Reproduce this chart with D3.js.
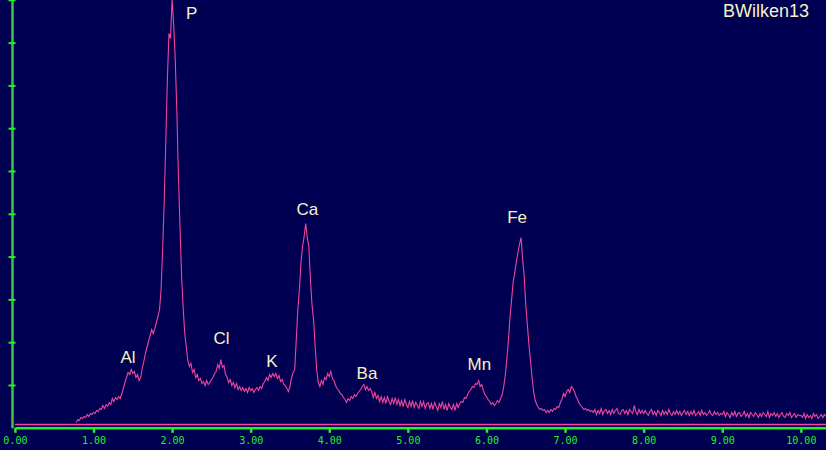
<!DOCTYPE html>
<html>
<head>
<meta charset="utf-8">
<script src="https://cdn.jsdelivr.net/npm/d3@7"></script>
<style>
  html, body { margin: 0; padding: 0; background: #000052; }
  svg { display: block; }
</style>
</head>
<body>
<svg width="826" height="450"></svg>
<script>
// EDS spectrum, one value per 0.02 keV channel starting at 0.78 keV
const startKeV = 0.78;
const channelKeV = 0.02;
const counts = [
  2,5,4,7,6,8,7,10,8,11, 10,12,11,14,13,16,15,19,16,20,
  18,22,20,26,23,27,25,28,26,31, 36,42,47,52,50,55,51,53,47,50,
  44,47,56,63,71,77,83,89,95,91, 96,102,108,115,135,176,224,283,345,391,
  386,426,400,365,315,250,200,150,118,92, 78,64,58,61,52,55,47,50,44,46,
  41,43,39,44,40,42,45,47,51,53, 60,56,65,57,59,50,47,42,45,39,
  42,37,41,35,38,34,37,33,36,32, 37,34,36,32,35,37,34,38,36,41,
  43,47,44,50,47,51,48,51,46,49, 43,45,40,39,36,33,38,47,52,55,
  85,115,135,162,178,188,201,187,178,145, 120,105,78,55,42,38,44,40,47,45,
  51,48,53,46,44,39,36,34,31,30, 27,25,22,26,24,28,26,30,28,31,
  33,35,38,40,35,38,34,36,
  33,27,32,26,29,23,28,22,27,21, 28,23,20,26,21,27,20,25,19,24,
  18,25,20,17,23,18,24,17,22,19, 16,23,18,23,16,21,22,16,21,15,
  22,18,14,21,17,23,15,20,14,21, 17,15,20,14,21,17,21,
  23,22,27,26,30, 33,35,38,37,41,40,44,38,40,34,
  30,28,25,23,20,22,19,21,24,22, 26,30,38,50,66,85,108,125,143,152,
  163,172,180,187,165,148,120,100,80,64, 47,33,24,20,17,15,16,14,15,12,
  14,12,15,13,16,15,18,17,22,25, 31,28,33,35,32,38,36,33,28,25,
  21,19,17,15,16,14,15,13,14,
  12,15,10,14,11,16,10,14,15,11, 14,10,15,11,14,16,11,10,14,15,
  11,14,10,15,13,11,19,13,10,15, 11,14,
  11,14,11,9,13,15,10,13,9,14, 12,9,14,10,13,10,15,11,9,13,
  10,14,10,13,9,12,14,10,13,9, 13,10,14,9,11,13,9,14,10,12,
  9,11,14,10,9,13,10,12,9,11,
  10,13,8,12,10,7,12,9,13,8, 11,12,8,10,13,8,11,7,12,10,
  8,12,10,7,11,8,12,10,8,13, 7,11,9,12,8,11,7,10,12,8,
  7,11,9,12,7,9,11,7,10,9,
  9,7,11,6,10,7,9,6,11,8, 10,6,8,10,7,10,8
];

const xTicks = [0, 1, 2, 3, 4, 5, 6, 7, 8, 9, 10];
const yTicks = [1, 2, 3, 4, 5, 6, 7, 8, 9, 10];

const peakNames = ["Al", "P", "Cl", "K", "Ca", "Ba", "Mn", "Fe"];
const peakLabelKeV = [1.44, 2.25, 2.63, 3.27, 3.72, 4.48, 5.91, 6.39];
const peakLabelCounts = [62, 406, 81, 58, 210, 46, 55, 202];

const sampleName = "BWilken13";

const W = 826, H = 450;
const svg = d3.select("svg");

svg.append("rect").attr("width", W).attr("height", H).attr("fill", "#000052");

const x = d3.scaleLinear().domain([0, 10.32]).range([14.9, 826]);
const yDiv = d3.scaleLinear().domain([0, 10]).range([427.8, -0.2]);
const yCounts = d3.scaleLinear().domain([0, 425]).range([424.5, -0.5]);

const spectrum = counts.map((c, i) => ({ e: startKeV + i * channelKeV, c: c }));

// zero line
svg.append("line")
  .attr("x1", x(0)).attr("x2", x(10.32))
  .attr("y1", yCounts(0)).attr("y2", yCounts(0))
  .attr("stroke", "#ff3fa0").attr("stroke-width", 1.5);

// spectrum trace
svg.append("path")
  .datum(spectrum)
  .attr("fill", "none")
  .attr("stroke", "#f0469a")
  .attr("stroke-width", 1.1)
  .attr("d", d3.line().x(d => x(d.e)).y(d => yCounts(d.c)));

// x axis
const xAxis = svg.append("g")
  .attr("transform", `translate(0, ${yDiv(0)})`)
  .call(d3.axisBottom(x).tickValues(xTicks).tickFormat(d3.format(".2f"))
    .tickSizeInner(5).tickSizeOuter(0).tickPadding(4));
xAxis.select(".domain").attr("stroke", "#22f022").attr("stroke-width", 2.5);
xAxis.selectAll(".tick line").attr("stroke", "#22f022").attr("stroke-width", 2.5);
xAxis.selectAll(".tick text")
  .attr("fill", "#22f022")
  .attr("font-family", "DejaVu Sans Mono, monospace")
  .attr("font-size", 10);

// y axis, ticks cross the line
const yAxis = svg.append("g")
  .attr("transform", "translate(12, 0)")
  .call(d3.axisLeft(yDiv).tickValues(yTicks).tickFormat("").tickSizeOuter(0));
yAxis.select(".domain").attr("stroke", "#44c044").attr("stroke-width", 2.5);
yAxis.selectAll(".tick line")
  .attr("x1", 3.5).attr("x2", -3.5)
  .attr("stroke", "#22f022").attr("stroke-width", 2);

// element labels
svg.selectAll(".peak")
  .data(peakNames)
  .enter()
  .append("text")
  .attr("class", "peak")
  .attr("x", (d, i) => x(peakLabelKeV[i]))
  .attr("y", (d, i) => yCounts(peakLabelCounts[i]))
  .attr("text-anchor", "middle")
  .attr("font-family", "Liberation Sans, Arial, sans-serif")
  .attr("font-size", 17)
  .attr("fill", "#f6f2c6")
  .text(d => d);

svg.append("text")
  .attr("x", 809)
  .attr("y", 17)
  .attr("text-anchor", "end")
  .attr("font-family", "Liberation Sans, Arial, sans-serif")
  .attr("font-size", 18)
  .attr("fill", "#f6f2c6")
  .text(sampleName);
</script>
</body>
</html>
